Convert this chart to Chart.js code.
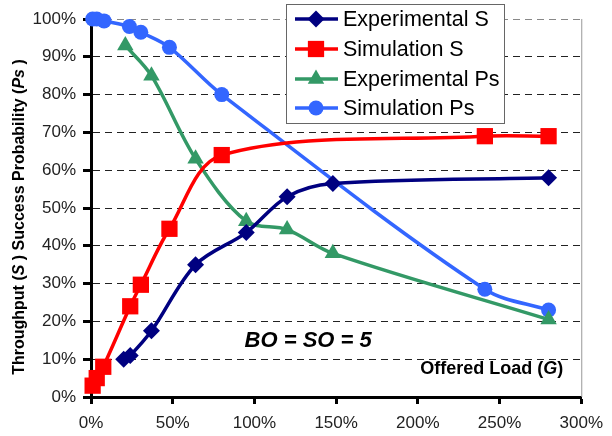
<!DOCTYPE html>
<html>
<head>
<meta charset="utf-8">
<script src="https://cdn.jsdelivr.net/npm/chart.js@4.4.1/dist/chart.umd.min.js"></script>
<style>
  body { margin: 0; background: #fff; }
</style>
</head>
<body>
<canvas id="myChart" width="612" height="436"></canvas>
<script>
// Offered load (x, %) and values (y, %)
const expSLoad = [20, 24, 37, 64, 95, 120, 148, 280];
const expS = [10, 11, 17.5, 35, 43.5, 53, 56.5, 58];

const simSLoad = [1, 3.5, 7.5, 24, 30.5, 48, 80, 241, 280];
const simS = [3, 5, 8, 24, 29.7, 44.5, 64, 69, 69];

const expPsLoad = [21, 37, 64, 95, 120, 148, 280];
const expPs = [93, 85, 63, 46.5, 44.3, 38, 20.5];

const simPsLoad = [1, 3.5, 8, 23.5, 30.5, 48, 80, 241, 280];
const simPs = [100, 100, 99.5, 98, 96.5, 92.5, 80, 28.5, 23];

const xTicks = [0, 50, 100, 150, 200, 250, 300];
const yTicks = [0, 10, 20, 30, 40, 50, 60, 70, 80, 90, 100];

const seriesNames = ['Experimental S', 'Simulation S', 'Experimental Ps', 'Simulation Ps'];
const annotation = 'BO = SO = 5';

const FONT = 'Arial, "Liberation Sans", sans-serif';

const pts = (xs, ys) => xs.map((x, i) => ({ x: x, y: ys[i] }));

// marker shapes for the legend
function marker(ctx, style, x, y, r, color) {
    ctx.save();
    ctx.fillStyle = color;
    ctx.beginPath();
    if (style === 'rectRot') {
        ctx.moveTo(x, y - r); ctx.lineTo(x + r, y); ctx.lineTo(x, y + r); ctx.lineTo(x - r, y);
    } else if (style === 'rect') {
        const s = r * Math.SQRT1_2;
        ctx.rect(x - s, y - s, 2 * s, 2 * s);
    } else if (style === 'triangle') {
        const w = r * 1.732;
        ctx.moveTo(x, y - r); ctx.lineTo(x + w / 2, y + r / 2); ctx.lineTo(x - w / 2, y + r / 2);
    } else {
        ctx.arc(x, y, r, 0, Math.PI * 2);
    }
    ctx.closePath();
    ctx.fill();
    ctx.restore();
}

// draw text made of plain / italic pieces
function richText(ctx, parts, x, y, size, align) {
    let total = 0;
    parts.forEach(p => {
        ctx.font = (p[1] ? 'italic ' : '') + 'bold ' + size + 'px ' + FONT;
        total += ctx.measureText(p[0]).width;
    });
    let cx = align === 'right' ? x - total : (align === 'center' ? x - total / 2 : x);
    ctx.textAlign = 'left';
    ctx.textBaseline = 'middle';
    parts.forEach(p => {
        ctx.font = (p[1] ? 'italic ' : '') + 'bold ' + size + 'px ' + FONT;
        ctx.fillText(p[0], cx, y);
        cx += ctx.measureText(p[0]).width;
    });
}

const extras = {
    id: 'extras',
    afterDatasetsDraw(chart) {
        const ctx = chart.ctx;
        const a = chart.chartArea;
        const xs = chart.scales.x, ys = chart.scales.y;

        // right frame line
        ctx.save();
        ctx.strokeStyle = '#999';
        ctx.lineWidth = 1;
        ctx.beginPath();
        ctx.moveTo(a.right + 0.5, a.top);
        ctx.lineTo(a.right + 0.5, a.bottom);
        ctx.stroke();

        ctx.fillStyle = '#000';
        // annotation
        richText(ctx, [[annotation, true]], xs.getPixelForValue(94), ys.getPixelForValue(14.8), 22, 'left');
        // x axis title inside the plot
        richText(ctx, [['Offered Load (', false], ['G', true], [')', false]],
            xs.getPixelForValue(289), ys.getPixelForValue(7.4), 18, 'right');

        // y axis title
        ctx.translate(20, 217);
        ctx.rotate(-Math.PI / 2);
        richText(ctx, [['Throughput (', false], ['S', true], [' ) Success Probability (', false], ['Ps', true], [' )', false]],
            0, 0, 16, 'center');
        ctx.restore();

        // legend
        ctx.save();
        ctx.fillStyle = '#fff';
        ctx.strokeStyle = '#666';
        ctx.lineWidth = 1;
        ctx.fillRect(286, 4, 218, 119);
        ctx.strokeRect(286.5, 4.5, 218, 119);
        const rows = [19, 49, 79, 108];
        chart.data.datasets.forEach((ds, i) => {
            const y = rows[i];
            ctx.strokeStyle = ds.borderColor;
            ctx.lineWidth = 3.5;
            ctx.beginPath();
            ctx.moveTo(295, y);
            ctx.lineTo(338, y);
            ctx.stroke();
            marker(ctx, ds.pointStyle, 316, y, ds.pointRadius, ds.borderColor);
            ctx.fillStyle = '#000';
            ctx.font = '21.5px ' + FONT;
            ctx.textAlign = 'left';
            ctx.textBaseline = 'middle';
            ctx.fillText(ds.label, 343, y + 1);
        });
        ctx.restore();
    }
};

const ctx = document.getElementById('myChart').getContext('2d');
const common = { borderWidth: 3.5, tension: 0.33, clip: false, pointBorderWidth: 0 };

const myChart = new Chart(ctx, {
    type: 'line',
    data: {
        datasets: [
            { ...common, label: seriesNames[0], data: pts(expSLoad, expS), borderColor: '#000080', backgroundColor: '#000080', pointStyle: 'rectRot', pointRadius: 8.5 },
            { ...common, label: seriesNames[1], data: pts(simSLoad, simS), borderColor: '#FF0000', backgroundColor: '#FF0000', pointStyle: 'rect', pointRadius: 11.5 },
            { ...common, label: seriesNames[2], data: pts(expPsLoad, expPs), borderColor: '#339966', backgroundColor: '#339966', pointStyle: 'triangle', pointRadius: 9.5 },
            { ...common, label: seriesNames[3], data: pts(simPsLoad, simPs), borderColor: '#3366FF', backgroundColor: '#3366FF', pointStyle: 'circle', pointRadius: 7.5 }
        ]
    },
    options: {
        responsive: false,
        animation: false,
        layout: { padding: { left: 0, top: 19, right: 23, bottom: 0 } },
        plugins: { legend: { display: false }, tooltip: { enabled: false } },
        scales: {
            x: {
                type: 'linear',
                min: 0,
                max: 300,
                afterBuildTicks: s => { s.ticks = xTicks.map(v => ({ value: v })); },
                afterFit: s => { s.height = 39; },
                ticks: {
                    callback: v => v + '%',
                    font: { family: FONT, size: 17 },
                    color: '#222',
                    padding: 9,
                    maxRotation: 0
                },
                grid: { drawOnChartArea: false, tickLength: 7, tickWidth: 3, tickColor: '#000' },
                border: { color: '#000', width: 3 }
            },
            y: {
                min: 0,
                max: 100,
                afterBuildTicks: s => { s.ticks = yTicks.map(v => ({ value: v })); },
                afterFit: s => { s.width = 91; },
                ticks: {
                    callback: v => v + '%',
                    font: { family: FONT, size: 17 },
                    color: '#222',
                    padding: 7
                },
                grid: {
                    color: c => (c.tick && c.tick.value === 100 ? '#888' : '#222'),
                    lineWidth: 1,
                    tickLength: 8,
                    tickWidth: 3,
                    tickColor: '#000'
                },
                border: { color: '#000', width: 3, dash: [7, 5] }
            }
        }
    },
    plugins: [extras]
});
</script>
</body>
</html>
